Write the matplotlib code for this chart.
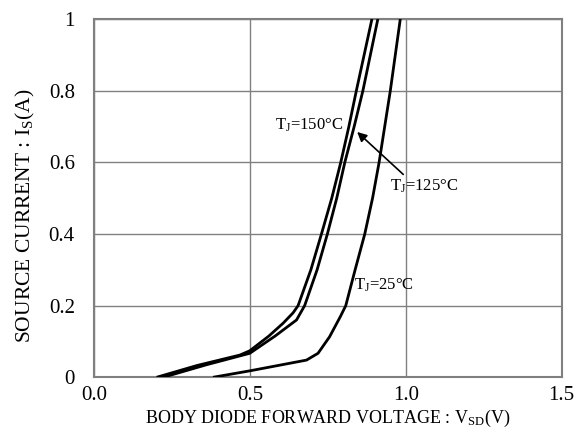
import numpy as np
import matplotlib
matplotlib.use("Agg")
import matplotlib.pyplot as plt

plt.rcParams["font.family"] = ["Liberation Serif", "DejaVu Serif"]
plt.rcParams["mathtext.fontset"] = "custom"
plt.rcParams["mathtext.rm"] = "Liberation Serif"

# Forward characteristics
v_150 = [0.200, 0.330, 0.467, 0.499, 0.560, 0.606, 0.638, 0.654, 0.695, 0.729,
         0.762, 0.791, 0.817, 0.841, 0.866, 0.891]
i_150 = [0.000, 0.033, 0.062, 0.074, 0.115, 0.151, 0.180, 0.200, 0.300, 0.400,
         0.500, 0.600, 0.700, 0.800, 0.900, 1.000]

v_125 = [0.221, 0.360, 0.499, 0.580, 0.649, 0.675, 0.715, 0.748, 0.778, 0.804,
         0.834, 0.862, 0.886, 0.910]
i_125 = [0.000, 0.035, 0.067, 0.115, 0.160, 0.200, 0.300, 0.400, 0.500, 0.600,
         0.700, 0.800, 0.900, 1.000]

v_25 = [0.381, 0.499, 0.681, 0.718, 0.755, 0.790, 0.807, 0.837, 0.868, 0.893,
        0.914, 0.932, 0.950, 0.966, 0.982]
i_25 = [0.000, 0.018, 0.048, 0.067, 0.113, 0.170, 0.200, 0.300, 0.400, 0.500,
        0.600, 0.700, 0.800, 0.900, 1.000]

x_ticks = [0.0, 0.5, 1.0, 1.5]
y_ticks = [0, 0.2, 0.4, 0.6, 0.8, 1]
y_tick_labels = ["0", "0.2", "0.4", "0.6", "0.8", "1"]

fig = plt.figure(figsize=(5.81, 4.38), dpi=100)
ax = fig.add_axes([0.1623, 0.1386, 0.8045, 0.818])

for v, i in [(v_150, i_150), (v_125, i_125), (v_25, i_25)]:
    ax.plot(v, i, color="black", linewidth=2.0, zorder=3,
            solid_joinstyle="round", solid_capstyle="butt")

ax.set_xlim(0, 1.5)
ax.set_ylim(0, 1)
ax.set_xticks(x_ticks)
ax.set_xticklabels([f"{t:.1f}" for t in x_ticks])
ax.set_yticks(y_ticks)
ax.set_yticklabels(y_tick_labels)
ax.tick_params(length=0, labelsize=15)
ax.tick_params(axis="x", pad=6)
ax.tick_params(axis="y", pad=14)
ax.grid(True, color="#808080", linewidth=1.0)
for sp in ax.spines.values():
    sp.set_color("#808080")
    sp.set_linewidth(1.5)

ax.set_xlabel(r"BODY DIODE FORWARD VOLTAGE : V$\mathregular{_{SD}}$(V)", fontsize=13)
ax.xaxis.set_label_coords(0.5, -0.084)
ax.set_ylabel(r"SOURCE CURRENT : I$\mathregular{_{S}}$(A)", fontsize=15.5)
ax.yaxis.set_label_coords(-0.123, 0.452)

ax.text(0.69, 0.704, r"T$\mathregular{_{J}}$=150°C", fontsize=12, ha="center", va="center", zorder=4)
ax.text(1.057, 0.532, r"T$\mathregular{_{J}}$=125°C", fontsize=12, ha="center", va="center", zorder=4)
ax.text(0.929, 0.258, r"T$\mathregular{_{J}}$=25°C", fontsize=12, ha="center", va="center", zorder=4)
ax.annotate("", xy=(0.837, 0.690), xytext=(0.998, 0.561),
            arrowprops=dict(arrowstyle="-|>", color="black", lw=1.2, mutation_scale=14))

fig.savefig("out.png", dpi=100)
